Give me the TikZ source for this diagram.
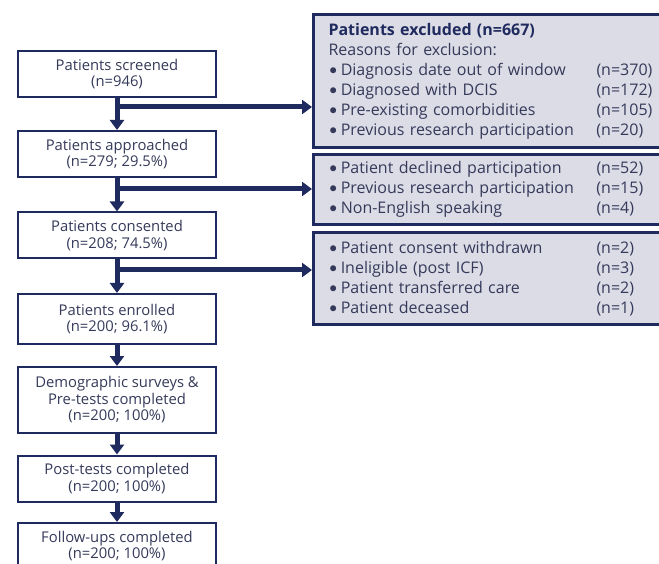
\documentclass[tikz,border=0pt]{standalone}
\usepackage{fontspec}
\setmainfont{Open Sans}
\newfontfamily\dotfont{Lato}
\usepackage{xcolor}
\usepackage{tikz}
\usetikzlibrary{arrows.meta,positioning,calc}
\definecolor{navy}{HTML}{1F2A5E}
\definecolor{ink}{HTML}{353A5A}
\definecolor{panel}{HTML}{DCDCE6}
\newcommand{\reason}[2]{\makebox[268pt][l]{{\dotfont\textbullet}\hspace{3pt}#1}#2}

\begin{document}
\begin{tikzpicture}[
  x=1pt, y=-1pt,
  font=\fontsize{14.8}{16.5}\selectfont,
  stage/.style={draw=navy, line width=2pt, fill=white, text=ink, minimum width=198pt, minimum height=46pt, align=center, inner sep=2pt},
  excl/.style={draw=navy, line width=3pt, fill=panel, text=ink, anchor=north west, minimum width=360pt, text width=330pt, align=left, inner xsep=15pt, font=\fontsize{16}{20}\selectfont},
  arr/.style={-{Triangle[width=14pt,length=10pt]}, line width=5pt, navy},
]
\clip (0,0) rectangle (659,564);
\fill[white] (0,0) rectangle (659,564);
% main flow
\node[stage] (scr) at (117,74)    {Patients screened\\(n=946)};
\node[stage] (app) at (117,154)   {Patients approached\\(n=279; 29.5\%)};
\node[stage] (con) at (117,235.5) {Patients consented\\(n=208; 74.5\%)};
\node[stage, minimum height=50pt] (enr) at (117,319) {Patients enrolled\\(n=200; 96.1\%)};
\node[stage, minimum height=66pt] (pre) at (117,400) {Demographic surveys \&\\Pre-tests completed\\(n=200; 100\%)};
\node[stage] (post) at (117,478.5) {Post-tests completed\\(n=200; 100\%)};
\node[stage] (fol) at (117,546)   {Follow-ups completed\\(n=200; 100\%)};
\foreach \a/\b in {scr/app, app/con, con/enr, enr/pre, pre/post, post/fol} \draw[arr] (\a) -- (\b);
% exclusion panels
\node[excl, minimum height=133pt] (exA) at (312,13) {{\color{navy}\bfseries Patients excluded (n=667)}\\Reasons for exclusion:\\
  \reason{Diagnosis date out of window}{(n=370)}\\\reason{Diagnosed with DCIS}{(n=172)}\\
  \reason{Pre-existing comorbidities}{(n=105)}\\\reason{Previous research participation}{(n=20)}};
\node[excl, minimum height=70pt] (exB) at (312,153) {\reason{Patient declined participation}{(n=52)}\\
  \reason{Previous research participation}{(n=15)}\\\reason{Non-English speaking}{(n=4)}};
\node[excl, minimum height=92pt] (exC) at (312,231) {\reason{Patient consent withdrawn}{(n=2)}\\
  \reason{Ineligible (post ICF)}{(n=3)}\\\reason{Patient transferred care}{(n=2)}\\\reason{Patient deceased}{(n=1)}};
% branches
\coordinate (j1) at (117,107);
\coordinate (j2) at (117,189);
\coordinate (j3) at (117,270);
\foreach \j/\e in {j1/exA, j2/exB, j3/exC} \draw[arr] (\j) -- (\j -| \e.west);
\end{tikzpicture}
\end{document}
